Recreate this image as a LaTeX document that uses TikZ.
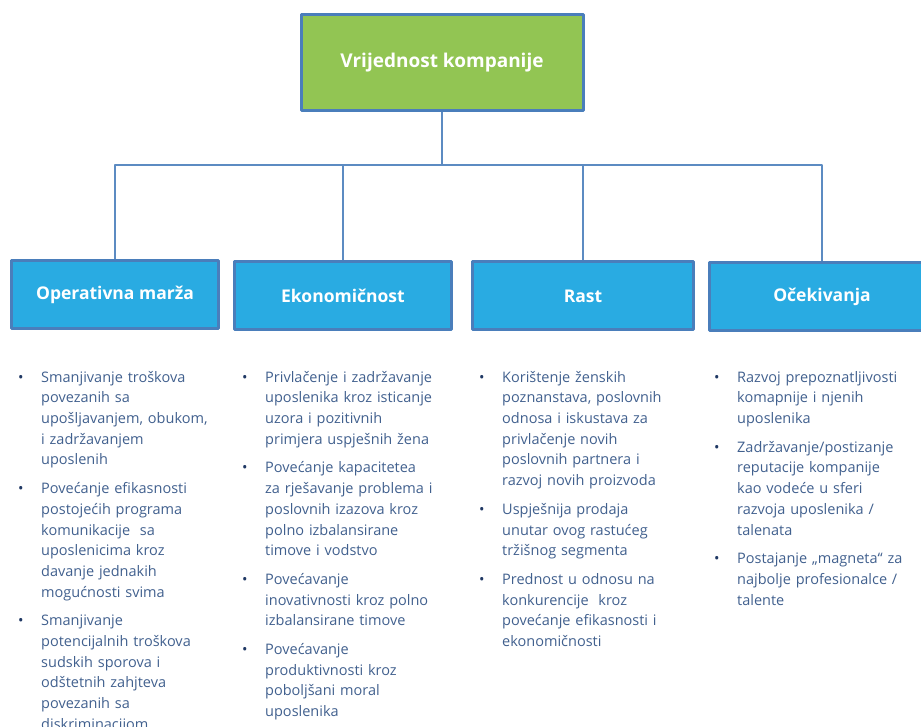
\documentclass[tikz,border=0pt]{standalone}
\usepackage{fontspec}
\setmainfont{Open Sans}
\usetikzlibrary{positioning}
\definecolor{leaf}{HTML}{92C553}
\definecolor{sky}{HTML}{29ABE2}
\definecolor{rim}{HTML}{4A7EBB}
\definecolor{ink}{HTML}{41608E}
\definecolor{navy}{HTML}{1F3864}
\newcommand\bitem[1]{\hangindent=23pt\hangafter=1\noindent\makebox[23pt][l]{\textcolor{navy}{\textbullet}}\strut#1\strut\par}
\begin{document}
\begin{tikzpicture}[x=1pt, y=-1pt, line join=round,
  head/.style={draw=rim, line width=3pt, fill=leaf, text=white, minimum width=282pt, minimum height=96pt, font=\fontsize{19}{22}\selectfont\bfseries},
  cat/.style={draw=rim, line width=3pt, fill=sky, text=white, minimum height=68pt, font=\fontsize{17.5}{20}\selectfont\bfseries},
  txt/.style={anchor=north west, inner sep=0pt, text width=205pt, text=ink, font=\fontsize{14.5}{20.7}\selectfont,
    execute at begin node={\raggedright\setlength{\parskip}{8pt}\let\\\newline}},
  link/.style={draw=rim!90, line width=1.8pt}]
 \useasboundingbox (0,0) rectangle (921,727);
 \clip (0,0) rectangle (921,727);
 % boxes
 \node[head] (top) at (442,63) {Vrijednost kompanije};
 \node[cat, minimum width=207pt] (op) at (115,295) {Operativna marža};
 \node[cat, minimum width=217pt] (ek) at (343,296) {Ekonomičnost};
 \node[cat, minimum width=221pt] (ra) at (583,296) {Rast};
 \node[cat, minimum width=225pt] (oc) at (822,297) {Očekivanja};
 % tree lines
 \coordinate (hub) at (442,165);
 \draw[link] (top) -- (hub);
 \foreach \c in {op,ek,ra,oc}
  \draw[link] (hub) -| (\c);
 % bullet lists
 \node[txt] (l1) at (18,367.5) {%
  \bitem{Smanjivanje troškova\\povezanih sa\\upošljavanjem, obukom,\\i zadržavanjem\\uposlenih}
  \bitem{Povećanje efikasnosti\\postojećih programa\\komunikacije\ \ sa\\uposlenicima kroz\\davanje jednakih\\mogućnosti svima}
  \bitem{Smanjivanje\\potencijalnih troškova\\sudskih sporova i\\odštetnih zahjteva\\povezanih sa\\diskriminacijom}};
 \node[txt] (l2) at (242,367.5) {%
  \bitem{Privlačenje i zadržavanje\\uposlenika kroz isticanje\\uzora i pozitivnih\\primjera uspješnih žena}
  \bitem{Povećanje kapacitetea\\za rješavanje problema i\\poslovnih izazova kroz\\polno izbalansirane\\timove i vodstvo}
  \bitem{Povećavanje\\inovativnosti kroz polno\\izbalansirane timove}
  \bitem{Povećavanje\\produktivnosti kroz\\poboljšani moral\\uposlenika}};
 \node[txt] (l3) at (479,367.5) {%
  \bitem{Korištenje ženskih\\poznanstava, poslovnih\\odnosa i iskustava za\\privlačenje novih\\poslovnih partnera i\\razvoj novih proizvoda}
  \bitem{Uspješnija prodaja\\unutar ovog rastućeg\\tržišnog segmenta}
  \bitem{Prednost u odnosu na\\konkurencije\ \ kroz\\povećanje efikasnosti i\\ekonomičnosti}};
 \node[txt] (l4) at (714,367.5) {%
  \bitem{Razvoj prepoznatljivosti\\komapnije i njenih\\uposlenika}
  \bitem{Zadržavanje/postizanje\\reputacije kompanije\\kao vodeće u sferi\\razvoja uposlenika /\\talenata}
  \bitem{Postajanje „magneta“ za\\najbolje profesionalce /\\talente}};
\end{tikzpicture}
\end{document}
